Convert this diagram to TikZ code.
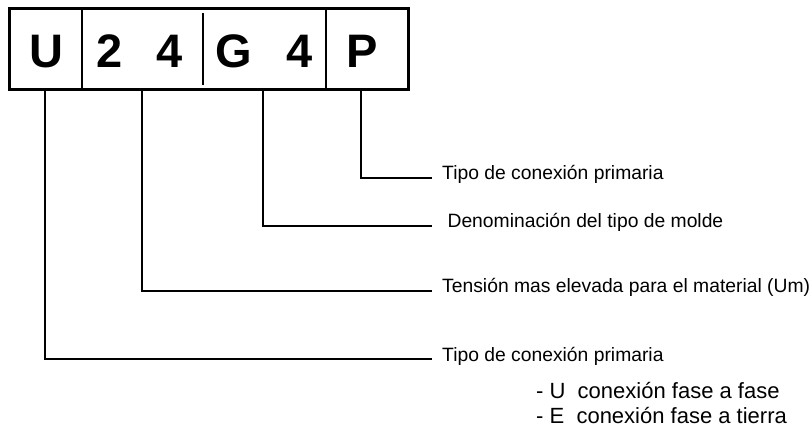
\documentclass[tikz,border=0pt]{standalone}
\usepackage{fontspec}
\setmainfont{Liberation Sans}
\usetikzlibrary{positioning}
\begin{document}
\begin{tikzpicture}[x=1pt,y=-1pt,
    code/.style={font=\fontsize{47}{47}\selectfont\bfseries, inner sep=0pt, anchor=base},
    legend/.style={font=\fontsize{19.3}{22}\selectfont, anchor=west,
                   inner xsep=10pt, inner ysep=0pt, text height=8pt, text depth=4pt},
    lead/.style={line width=2pt}]
  \useasboundingbox (0,0) rectangle (811,430);
  % code frame
  \node[draw, line width=2.6pt, minimum width=399pt, minimum height=81pt,
        inner sep=0pt, anchor=north west] (frame) at (8,7) {};
  \draw[line width=2.6pt] (82,7) -- (82,88);
  \draw[line width=2.6pt] (326,7) -- (326,88);
  \draw[line width=2pt] (203,13) -- (203,85);
  \node[code] (cU) at (46,68) {U};
  \node[code] (c2) at (110,68) {2};
  \node[code] (c4a) at (170,68) {4};
  \node[code] (cG) at (234,68) {G};
  \node[code] (c4b) at (300,68) {4};
  \node[code] (cP) at (362,68) {P};
  % lead tops
  \coordinate (tU) at (45,88);
  \coordinate (t24) at (142,88);
  \coordinate (tG) at (263,88);
  \coordinate (tP) at (361,88);
  % labels
  \node[legend] (lblP) at (432,178) {Tipo de conexión primaria};
  \node[legend] (lblG) at (432,226) {\ Denominación del tipo de molde};
  \node[legend] (lbl24) at (432,291) {Tensión mas elevada para el material (Um)};
  \node[legend] (lblU) at (432,359) {Tipo de conexión primaria};
  \node[font=\fontsize{22}{25}\selectfont, align=left, inner sep=0pt,
        anchor=base west] (lblUE) at (536,423)
    {- U\ \ conexión fase a fase\\- E\ \ conexión fase a tierra};
  % leads
  \draw[lead] (tP) |- (lblP.west);
  \draw[lead] (tG) |- (lblG.west);
  \draw[lead] (t24) |- (lbl24.west);
  \draw[lead] (tU) |- (lblU.west);
\end{tikzpicture}
\end{document}
